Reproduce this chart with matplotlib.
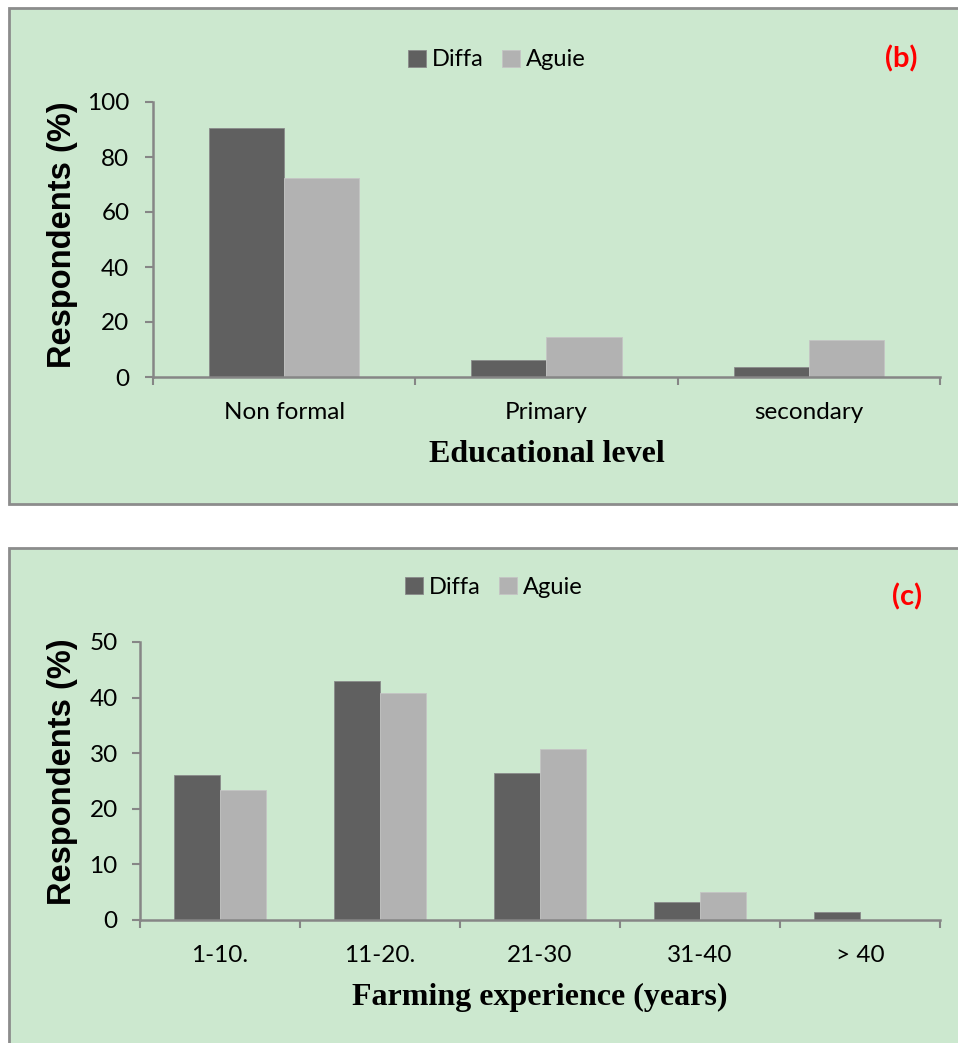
import matplotlib.pyplot as plt
from matplotlib.patches import Rectangle
import numpy as np

# panel (b) - educational level
edu_levels = ['Non formal', 'Primary', 'secondary']
edu_diffa = [90.4, 6.1, 3.5]
edu_aguie = [72.2, 14.4, 13.4]

# panel (c) - farming experience
exp_classes = ['1-10.', '11-20.', '21-30', '31-40', '> 40']
exp_diffa = [26.0, 43.0, 26.4, 3.2, 1.4]
exp_aguie = [23.4, 40.8, 30.7, 5.1, 0.0]

W, H = 958, 1043
BG = '#cce8cf'
AXIS = '#868686'
DIFFA = '#606060'
AGUIE = '#b2b2b2'


def fx(px):
  return px / W


def fy(py):
  return 1 - py / H


def panel_box(fig, top, bottom):
  fig.patches.append(Rectangle((fx(9), fy(bottom)), fx(1000), fy(top) - fy(bottom),
                               transform=fig.transFigure, facecolor=BG,
                               edgecolor='#8c8c8c', linewidth=2, zorder=-1))


def bar_panel(fig, rect, cats, diffa, aguie, ymax, ystep, xlabel, xlabel_y,
              ylabel_y, legend_xy, tag, tag_xy, ypad):
  left, top, right, bottom = rect
  ax = fig.add_axes([fx(left), fy(bottom), fx(right - left), fy(top) - fy(bottom)])
  ax.set_zorder(2)
  ax.set_facecolor('none')
  x = np.arange(len(cats)) + 0.5
  w = 0.286
  ax.bar(x - w / 2, diffa, w, color=DIFFA, edgecolor='#8a8a8a', linewidth=0.6, label='Diffa')
  ax.bar(x + w / 2, aguie, w, color=AGUIE, edgecolor='#c4c4c4', linewidth=0.6, label='Aguie')
  ax.set_xlim(0, len(cats))
  ax.set_ylim(0, ymax)
  ax.set_yticks(np.arange(0, ymax + 1, ystep))
  ax.set_xticks(x)
  ax.set_xticklabels(cats)
  ax.set_xticks(np.arange(len(cats) + 1), minor=True)
  for s in ['top', 'right']:
    ax.spines[s].set_visible(False)
  for s in ['left', 'bottom']:
    ax.spines[s].set_color(AXIS)
    ax.spines[s].set_linewidth(1.8)
  ax.tick_params(axis='x', which='major', length=0, pad=18, labelsize=17.5)
  ax.tick_params(axis='x', which='minor', length=6, width=1.5, color=AXIS, direction='out')
  ax.tick_params(axis='y', length=6, width=1.5, color=AXIS, direction='out',
                 pad=ypad, labelsize=17.5)
  for lbl in ax.get_xticklabels() + ax.get_yticklabels():
    lbl.set_family('Lato')

  fig.text(fx((left + right) / 2), fy(xlabel_y), xlabel, ha='center', va='center',
           fontsize=23, fontweight='bold', family='Liberation Serif')
  fig.text(fx(63), fy(ylabel_y), 'Respondents (%)', ha='center', va='center',
           rotation=90, fontsize=23.5, fontweight='bold', family='Liberation Sans')
  ax.legend(loc='center', bbox_to_anchor=(fx(legend_xy[0]), fy(legend_xy[1])),
            bbox_transform=fig.transFigure,
            ncol=2, frameon=False, prop={'family': 'Lato', 'size': 17},
            handlelength=0.75, handleheight=0.75, handletextpad=0.25,
            columnspacing=0.8, borderaxespad=0)
  fig.text(fx(tag_xy[0]), fy(tag_xy[1]), tag, ha='center', va='center', color='#ff0000',
           fontsize=21, fontweight='bold', family='Lato')
  return ax


fig = plt.figure(figsize=(W / 100, H / 100), dpi=100)
fig.patch.set_facecolor('white')

panel_box(fig, 8, 504)
panel_box(fig, 548, 1100)

bar_panel(fig, (153, 102, 940, 377), edu_levels, edu_diffa, edu_aguie, 100, 20,
          'Educational level', 455, 235, (497, 60), '(b)', (901, 59), 11)
bar_panel(fig, (140, 642, 940, 920), exp_classes, exp_diffa, exp_aguie, 50, 10,
          'Farming experience (years)', 997, 772, (494, 587), '(c)', (907, 597), 10)

fig.savefig('out.png', dpi=100, facecolor='white')
